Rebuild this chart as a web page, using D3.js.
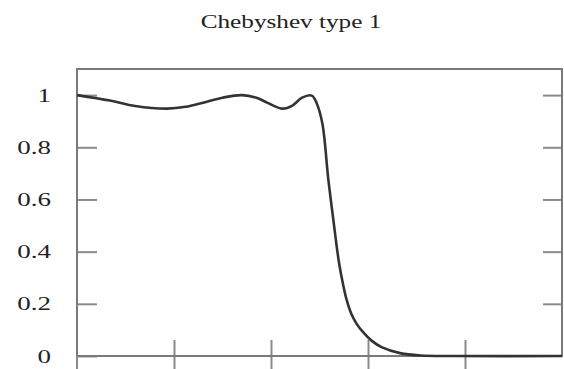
<!DOCTYPE html>
<html lang="en">
  <head>
    <meta charset="utf-8">
    <title>Chebyshev type 1</title>
    <script src="https://d3js.org/d3.v7.js"></script>
    <style>
      body { margin: 0; background: white; }
    </style>
  </head>
  <body>
    <script>

      // curve (frequency, gain)
      const freq = [0, 0.34, 0.6, 0.93, 1.12, 1.30, 1.5, 1.70, 1.85, 1.96, 2.12, 2.22, 2.32, 2.42,
                    2.47, 2.53, 2.59, 2.64, 2.70, 2.74, 2.78, 2.83, 2.88, 2.94, 3.04, 3.14, 3.33, 3.54, 3.9, 5];
      const gain = [1.0, 0.979, 0.958, 0.948, 0.955, 0.971, 0.99, 1.0, 0.99, 0.971, 0.948, 0.96, 0.99, 0.998,
                    0.97, 0.89, 0.68, 0.53, 0.36, 0.28, 0.215, 0.16, 0.125, 0.095, 0.058, 0.034, 0.011, 0.002, 0, 0];
      const yTicks = [0, 0.2, 0.4, 0.6, 0.8, 1];
      const yTickLabels = ["0", "0.2", "0.4", "0.6", "0.8", "1"];
      const xTicks = [1, 2, 3, 4];

      const w = 564;
      const h = 369;
      const margin = {top: 69, right: 2, bottom: 13, left: 77};
      const innerWidth = w - margin.left - margin.right;
      const innerHeight = h - margin.top - margin.bottom;

      const xScale = d3.scaleLinear()
                       .domain([0, 5])
                       .range([0, innerWidth]);

      const yScale = d3.scaleLinear()
                       .domain([0, 1.1])
                       .range([innerHeight, 0]);

      const svg = d3.select("body")
                    .append("svg")
                    .attr("width", w)
                    .attr("height", h);

      svg.append("rect")
         .attr("width", w)
         .attr("height", h)
         .attr("fill", "white");

      const g = svg.append("g")
                   .attr("transform", `translate(${margin.left}, ${margin.top})`);

      // axes, ticks pointing inwards
      const yAxis = d3.axisLeft(yScale)
                      .tickValues(yTicks)
                      .tickFormat((d, i) => yTickLabels[i])
                      .tickSizeInner(-20)
                      .tickSizeOuter(0)
                      .tickPadding(26);

      const yAxisRight = d3.axisRight(yScale)
                           .tickValues(yTicks.filter(d => d > 0))
                           .tickSizeInner(-19)
                           .tickSizeOuter(0);

      const xAxisUp = d3.axisBottom(xScale)
                        .tickValues(xTicks)
                        .tickSizeInner(-16)
                        .tickSizeOuter(0);

      const xAxisDown = d3.axisBottom(xScale)
                          .tickValues(xTicks)
                          .tickSizeInner(16)
                          .tickSizeOuter(0);

      const gy = g.append("g").call(yAxis);
      const gr = g.append("g").attr("transform", `translate(${innerWidth}, 0)`).call(yAxisRight);
      const gx1 = g.append("g").attr("transform", `translate(0, ${innerHeight})`).call(xAxisUp);
      const gx2 = g.append("g").attr("transform", `translate(0, ${innerHeight})`).call(xAxisDown);

      // only tick marks on these, no labels
      [gr, gx1, gx2].forEach(a => a.selectAll(".tick text").remove());

      g.selectAll(".domain").remove();
      g.selectAll(".tick line")
       .attr("stroke", "#8a8a8a")
       .attr("stroke-width", 2);

      // wide serif labels like the picture (stretched with textLength)
      gy.selectAll(".tick text")
        .attr("dy", "0.34em")
        .attr("font-family", "'Liberation Serif', serif")
        .attr("font-size", 18)
        .attr("fill", "#222")
        .each(function() {
          const len = this.getComputedTextLength();
          d3.select(this)
            .attr("textLength", len * 1.5)
            .attr("lengthAdjust", "spacingAndGlyphs");
        });

      // frame
      g.append("rect")
       .attr("x", 0)
       .attr("y", 0)
       .attr("width", innerWidth)
       .attr("height", innerHeight)
       .attr("fill", "none")
       .attr("stroke", "#7a7a7a")
       .attr("stroke-width", 2);

      // left frame line runs on below the axis
      g.append("line")
       .attr("x1", 0).attr("x2", 0)
       .attr("y1", innerHeight).attr("y2", innerHeight + 16)
       .attr("stroke", "#8a8a8a")
       .attr("stroke-width", 2);

      const line = d3.line()
                     .x((d, i) => xScale(freq[i]))
                     .y(d => yScale(d))
                     .curve(d3.curveCatmullRom.alpha(0.5));

      g.append("path")
       .datum(gain)
       .attr("d", line)
       .attr("fill", "none")
       .attr("stroke", "#333")
       .attr("stroke-width", 2.6);

      const title = svg.append("text")
         .attr("x", 291)
         .attr("y", 28)
         .attr("text-anchor", "middle")
         .attr("font-family", "'Liberation Serif', serif")
         .attr("font-size", 18)
         .attr("fill", "#222")
         .text("Chebyshev type 1");
      title.attr("textLength", title.node().getComputedTextLength() * 1.4)
           .attr("lengthAdjust", "spacingAndGlyphs");

    </script>
  </body>
</html>
